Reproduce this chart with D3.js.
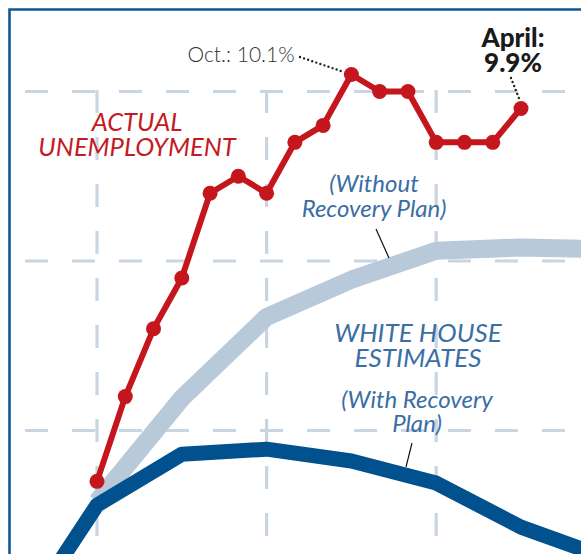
<!DOCTYPE html>
<html>
<head>
<meta charset="utf-8">
<script src="https://cdn.jsdelivr.net/npm/d3@7"></script>
<style>
  html, body { margin: 0; padding: 0; background: #fff; }
  svg { display: block; font-family: Lato, "Open Sans", sans-serif; }
</style>
</head>
<body>
<div id="chart"></div>
<script>
// actual unemployment, monthly, Jan 2009 .. Apr 2010 (month index 0 = Jan 2009)
const months = ['Jan 09', 'Feb 09', 'Mar 09', 'Apr 09', 'May 09', 'Jun 09', 'Jul 09', 'Aug 09',
  'Sep 09', 'Oct 09', 'Nov 09', 'Dec 09', 'Jan 10', 'Feb 10', 'Mar 10', 'Apr 10']
const actualRate = [7.7, 8.2, 8.6, 8.9, 9.4, 9.5, 9.4, 9.7, 9.8, 10.1, 10.0, 10.0, 9.7, 9.7, 9.7, 9.9]

// White House estimates, quarterly
const quarters = ['2008 Q4', '2009 Q1', '2009 Q2', '2009 Q3', '2009 Q4', '2010 Q1', '2010 Q2', '2010 Q3']
const quarterMonth = [-3, 0, 3, 6, 9, 12, 15, 18]
const withPlan = [6.8, 7.56, 7.86, 7.89, 7.82, 7.69, 7.43, 7.25]
const withoutPlan = [null, 7.58, 8.19, 8.67, 8.89, 9.06, 9.08, 9.07]

const gridMonths = [0, 6, 12]
const gridRates = [8, 9, 10]

const W = 581, H = 554

const svg = d3.select('#chart').append('svg')
  .attr('width', W)
  .attr('height', H)

const x = d3.scaleLinear().domain([0, 15]).range([97, 521])
const y = d3.scaleLinear().domain([8, 10]).range([430.5, 91.5])

const gridColor = '#c8d5e2'

// dashed grid
svg.append('g')
  .selectAll('line')
  .data(gridRates)
  .join('line')
  .attr('x1', 25)
  .attr('x2', W)
  .attr('y1', d => y(d))
  .attr('y2', d => y(d))
  .attr('stroke', gridColor)
  .attr('stroke-width', 3.2)
  .attr('stroke-dasharray', '23 24')

svg.append('g')
  .selectAll('line')
  .data(gridMonths)
  .join('line')
  .attr('x1', d => x(d))
  .attr('x2', d => x(d))
  .attr('y1', y(10) - 1.5)
  .attr('y2', H)
  .attr('stroke', gridColor)
  .attr('stroke-width', 3.2)
  .attr('stroke-dasharray', '23 24')

// frame
svg.append('path')
  .attr('d', `M9.5,${H + 5}V9.5H${W + 5}`)
  .attr('fill', 'none')
  .attr('stroke', '#0d5894')
  .attr('stroke-width', 2.6)

const qLine = d3.line()
  .defined(d => d.v != null)
  .x(d => x(d.m))
  .y(d => y(d.v))

const withoutData = quarters.map((q, i) => ({ m: quarterMonth[i], v: withoutPlan[i] }))
const withData = quarters.map((q, i) => ({ m: quarterMonth[i], v: withPlan[i] }))

svg.append('path')
  .datum(withoutData)
  .attr('d', qLine)
  .attr('fill', 'none')
  .attr('stroke', '#b8c9da')
  .attr('stroke-width', 18)
  .attr('stroke-linejoin', 'round')

svg.append('path')
  .datum(withData)
  .attr('d', qLine)
  .attr('fill', 'none')
  .attr('stroke', '#01518e')
  .attr('stroke-width', 15)
  .attr('stroke-linejoin', 'round')

// actual unemployment
const red = '#c5161d'
const actual = actualRate.map((v, i) => ({ m: i, v, label: months[i] }))

svg.append('path')
  .datum(actual)
  .attr('d', d3.line().x(d => x(d.m)).y(d => y(d.v)))
  .attr('fill', 'none')
  .attr('stroke', red)
  .attr('stroke-width', 6)
  .attr('stroke-linejoin', 'round')

svg.append('g')
  .selectAll('circle')
  .data(actual)
  .join('circle')
  .attr('cx', d => x(d.m))
  .attr('cy', d => y(d.v))
  .attr('r', 7.5)
  .attr('fill', red)

// dotted leaders
function dotted(x1, y1, x2, y2) {
  svg.append('line')
    .attr('x1', x1).attr('y1', y1)
    .attr('x2', x2).attr('y2', y2)
    .attr('stroke', '#222')
    .attr('stroke-width', 2.4)
    .attr('stroke-linecap', 'round')
    .attr('stroke-dasharray', '0 4.3')
}
const oct = actual[9], apr = actual[15]
dotted(300, 57, x(oct.m) - 9, y(oct.v) - 3)
dotted(511, 78, x(apr.m) - 2, y(apr.v) - 10)

function thin(x1, y1, x2, y2) {
  svg.append('line')
    .attr('x1', x1).attr('y1', y1)
    .attr('x2', x2).attr('y2', y2)
    .attr('stroke', '#111')
    .attr('stroke-width', 1.2)
}
thin(376, 229, 389, 258)
thin(412, 443, 406, 467)

// labels
function label(lines, cx, baselines, opts) {
  const t = svg.append('text')
    .attr('text-anchor', 'middle')
    .attr('fill', opts.color)
    .attr('font-size', opts.size)
    .attr('font-style', opts.italic ? 'italic' : 'normal')
    .attr('font-weight', opts.weight || 400)
  lines.forEach((s, i) => {
    t.append('tspan').attr('x', cx).attr('y', baselines[i]).text(s)
  })
}

label(['Oct.: 10.1%'], 241, [62], { color: '#333', size: 21, weight: 300 })
label(['April:', '9.9%'], 513, [47, 72], { color: '#1a1a1a', size: 26, weight: 900 })
label(['ACTUAL', 'UNEMPLOYMENT'], 137, [131, 156], { color: '#c41a23', size: 25.5, italic: true })
label(['(Without', 'Recovery Plan)'], 374, [192, 217], { color: '#3a6ea5', size: 24, italic: true })
label(['WHITE HOUSE', 'ESTIMATES'], 418, [342, 367], { color: '#3a6ea5', size: 26, italic: true })
label(['(With Recovery', 'Plan)'], 417, [408, 432], { color: '#3a6ea5', size: 24, italic: true })
</script>
</body>
</html>
